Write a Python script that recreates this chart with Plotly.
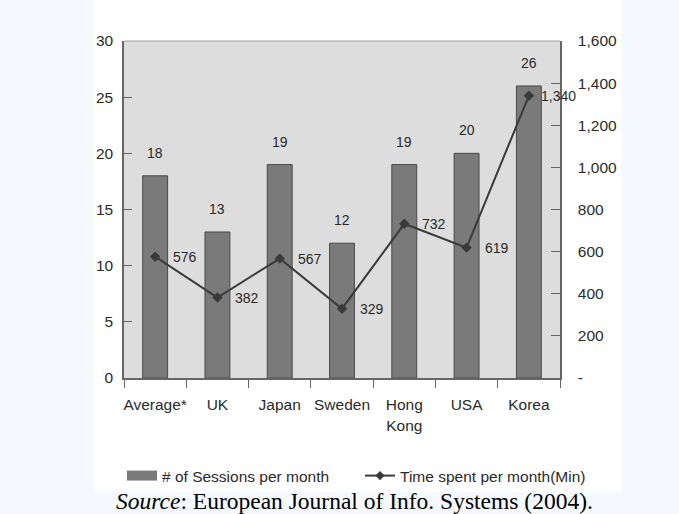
import plotly.graph_objects as go

# Monthly internet usage by country
countries = ["Average*", "UK", "Japan", "Sweden", "Hong<br>Kong", "USA", "Korea"]
sessions_per_month = [18, 13, 19, 12, 19, 20, 26]
minutes_per_month = [576, 382, 567, 329, 732, 619, 1340]

left_ticks = [0, 5, 10, 15, 20, 25, 30]
right_ticks = [0, 200, 400, 600, 800, 1000, 1200, 1400, 1600]
right_tick_text = ["-", "200", "400", "600", "800", "1,000", "1,200", "1,400", "1,600"]

FONT = "Liberation Sans, Arial, sans-serif"
INK = "#2a2a2a"
BAR = "#7a7a7a"
LINE = "#3a3a3a"
W, H = 679, 514
L, R, T, B = 124, 119, 41, 136
PW, PH = W - L - R, H - T - B


def px(x):
    return (x - L) / PW


def py(y):
    return (H - B - y) / PH


fig = go.Figure()

fig.add_trace(go.Bar(
    x=countries, y=sessions_per_month,
    name="# of Sessions per month",
    marker=dict(color=BAR, line=dict(color="#4a4a4a", width=1)),
    width=0.4, yaxis="y", showlegend=False,
))

fig.add_trace(go.Scatter(
    x=countries, y=minutes_per_month,
    name="Time spent per month(Min)",
    mode="lines+markers",
    line=dict(color=LINE, width=2),
    marker=dict(symbol="diamond", size=8, color=LINE),
    yaxis="y2", showlegend=False,
))

# legend entries: a wide block for the bars and the marker line for the minutes
fig.add_trace(go.Scatter(
    x=[None], y=[None], mode="lines", name="# of Sessions per month",
    line=dict(color=BAR, width=11),
))
fig.add_trace(go.Scatter(
    x=[None], y=[None], mode="lines+markers", name="Time spent per month(Min)",
    line=dict(color=LINE, width=2),
    marker=dict(symbol="diamond", size=7, color=LINE),
))

# value labels above the bars
for c, v in zip(countries, sessions_per_month):
    fig.add_annotation(x=c, y=v, yref="y", text=str(v), showarrow=False,
                       yshift=23, font=dict(family=FONT, size=14, color=INK))

# value labels to the right of the line points
for c, v in zip(countries, minutes_per_month):
    fig.add_annotation(x=c, y=v, yref="y2", text=f"{v:,}", showarrow=False,
                       xshift=30, font=dict(family=FONT, size=14, color=INK))

# light-blue page margins around the white chart card
strip = "#f5f9fd"
for x0, x1, y0, y1 in [(0, 94, 0, H), (622, W, 0, H), (0, W, 492, H)]:
    fig.add_shape(type="rect", xref="paper", yref="paper",
                  x0=px(x0), x1=px(x1), y0=py(y1), y1=py(y0),
                  fillcolor=strip, line=dict(width=0), layer="below")

# top border of the plot area
fig.add_shape(type="line", xref="paper", yref="paper", x0=0, x1=1, y0=1, y1=1,
              line=dict(color="#a0a0a0", width=1))

fig.add_annotation(
    xref="paper", yref="paper", x=px(354), y=py(501), yanchor="middle",
    text="<i>Source</i>: European Journal of Info. Systems (2004).",
    showarrow=False,
    font=dict(family="Liberation Serif, Times New Roman, serif", size=23.5, color="#000"),
)

axis_line = dict(showline=True, linecolor="#666", linewidth=1.5, tickcolor="#666",
                 showgrid=False)

fig.update_layout(
    width=W, height=H,
    margin=dict(l=L, r=R, t=T, b=B, pad=0),
    paper_bgcolor="#ffffff",
    plot_bgcolor="#dddddd",
    font=dict(family=FONT, size=15, color=INK),
    xaxis=dict(
        **axis_line,
        range=[-0.5, len(countries) - 0.5],
        ticks="outside", tickson="boundaries", ticklen=8,
        ticklabelstandoff=12, tickangle=0,
        tickfont=dict(family=FONT, size=15.5, color=INK),
        fixedrange=True,
    ),
    yaxis=dict(
        **axis_line,
        range=[0, 30], tickvals=left_ticks,
        ticks="inside", ticklen=8, ticklabelstandoff=6,
        tickfont=dict(family=FONT, size=15.5, color=INK),
        zeroline=False,
    ),
    yaxis2=dict(
        **axis_line,
        range=[0, 1600], tickvals=right_ticks, ticktext=right_tick_text,
        overlaying="y", side="right",
        ticks="inside", ticklen=9, ticklabelstandoff=13,
        tickfont=dict(family=FONT, size=15.5, color=INK),
        zeroline=False,
    ),
    legend=dict(
        orientation="h", x=px(122), xanchor="left", y=py(476), yanchor="middle",
        font=dict(family=FONT, size=15.5, color=INK),
        bgcolor="rgba(0,0,0,0)", itemwidth=30,
        entrywidth=193, entrywidthmode="pixels",
    ),
    showlegend=True,
)

fig.write_html("out.html")
